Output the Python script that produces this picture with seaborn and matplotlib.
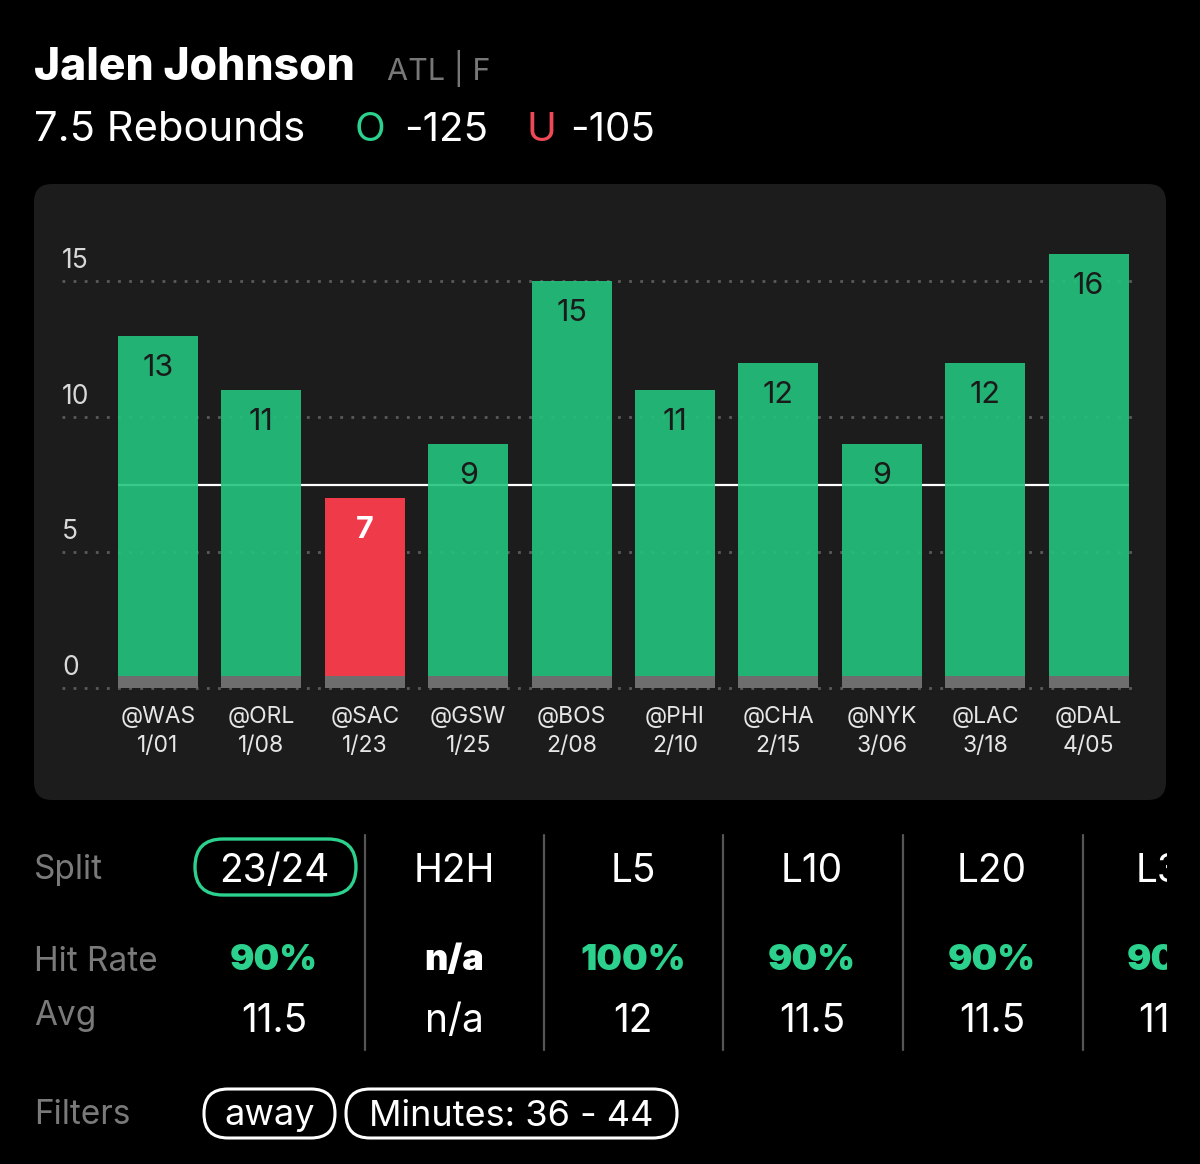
import matplotlib
matplotlib.use("Agg")
import matplotlib.pyplot as plt
import seaborn as sns
import pandas as pd
from matplotlib.patches import FancyBboxPatch, Rectangle

# game log
opponents = ['@WAS', '@ORL', '@SAC', '@GSW', '@BOS', '@PHI', '@CHA', '@NYK', '@LAC', '@DAL']
dates = ['1/01', '1/08', '1/23', '1/25', '2/08', '2/10', '2/15', '3/06', '3/18', '4/05']
rebounds = [13, 11, 7, 9, 15, 11, 12, 9, 12, 16]
prop_line = 7.5
y_ticks = [0, 5, 10, 15]

# split table
splits = ['23/24', 'H2H', 'L5', 'L10', 'L20', 'L30']
hit_rates = ['90%', 'n/a', '100%', '90%', '90%', '90%']
averages = ['11.5', 'n/a', '12', '11.5', '11.5', '11.5']
filters = ['away', 'Minutes: 36 - 44']

GREEN = '#23c47d'
GREEN_TXT = '#2bd18d'
RED = '#ef3a4a'
PANEL = '#1c1c1c'
LABEL_GRAY = '#7a7a7a'

sns.set_theme(style="dark")
plt.rcParams['font.family'] = ['Inter', 'DejaVu Sans']

fig = plt.figure(figsize=(12, 11.64), dpi=100, facecolor='black')

# background axes in pixel coords for the header, panel and table
bg = fig.add_axes([0, 0, 1, 1])
bg.set_xlim(0, 1200)
bg.set_ylim(1164, 0)
bg.axis('off')
bg.set_facecolor('black')

bg.add_patch(FancyBboxPatch((34, 184), 1132, 616, boxstyle="round,pad=0,rounding_size=18",
                            facecolor=PANEL, edgecolor='none'))

bg.text(34, 80, 'Jalen Johnson', color='white', fontsize=32, fontweight='heavy', va='baseline')
bg.text(387, 80, 'ATL | F', color='#777777', fontsize=22, va='baseline')
bg.text(34, 141, f'{prop_line} Rebounds', color='white', fontsize=30, va='baseline')
bg.text(355, 141, 'O', color=GREEN_TXT, fontsize=29, va='baseline')
bg.text(404, 141, '-125', color='white', fontsize=29, va='baseline')
bg.text(526, 141, 'U', color='#ee4a55', fontsize=29, va='baseline')
bg.text(570, 141, '-105', color='white', fontsize=29, va='baseline')

# chart
ax = fig.add_axes([62 / 1200, (1164 - 696) / 1164, 1078 / 1200, 466 / 1164])
ax.set_facecolor('none')
df = pd.DataFrame({
    'game': [f'{o}\n{d}' for o, d in zip(opponents, dates)],
    'reb': rebounds,
    'result': ['over' if r > prop_line else 'under' for r in rebounds],
})
sns.barplot(data=df, x='game', y='reb', hue='result', palette={'over': GREEN, 'under': RED},
            dodge=False, width=0.774, saturation=1, errorbar=None, legend=False, ax=ax,
            zorder=3, edgecolor='none', linewidth=0)

bars = sorted(ax.patches, key=lambda p: p.get_x())
for p, r in zip(bars, rebounds):
    ax.add_patch(Rectangle((p.get_x(), 0), p.get_width(), 0.45, facecolor='#6e6e6e',
                           edgecolor='none', zorder=4))
    under = r <= prop_line
    if not under:
        p.set_alpha(0.9)
    ax.annotate(str(r), (p.get_x() + p.get_width() / 2, r), xytext=(0, -23),
                textcoords='offset points', ha='center', va='center', fontsize=22,
                color='white' if under else '#1a1a1a', fontweight='bold' if under else 'normal',
                zorder=5)

for t in y_ticks:
    ax.axhline(t, color='#5a5a5a', lw=2, linestyle=(0, (1, 3)), dash_capstyle='butt', zorder=1)
    ax.annotate(str(t), (0, t), xycoords=('axes fraction', 'data'), xytext=(0, 14.5),
                textcoords='offset points', ha='left', va='center', fontsize=19, color='#d8d8d8')

ax.hlines(prop_line, bars[0].get_x(), bars[-1].get_x() + bars[-1].get_width(),
          color='white', lw=1.6, zorder=2)

ax.set_xlim(-0.928, 9.497)
ax.set_ylim(-0.3, 16.9)
ax.set_yticks([])
ax.set_xlabel('')
ax.set_ylabel('')
ax.tick_params(axis='x', length=0, pad=7, labelsize=16.5, labelcolor='#e6e6e6')
for lbl in ax.get_xticklabels():
    lbl.set_linespacing(1.45)
for s in ax.spines.values():
    s.set_visible(False)
ax.grid(False)

# split table
col_x = [274, 454, 633, 812, 992, 1171]
bg.text(34, 870, 'Split', color=LABEL_GRAY, fontsize=24, va='center')
bg.text(34, 962, 'Hit Rate', color=LABEL_GRAY, fontsize=24, va='center')
bg.text(34, 1016, 'Avg', color=LABEL_GRAY, fontsize=24, va='center')
bg.text(34, 1115, 'Filters', color=LABEL_GRAY, fontsize=24, va='center')

bg.add_patch(FancyBboxPatch((195, 839), 161, 56, boxstyle="round,pad=0,rounding_size=28",
                            facecolor='none', edgecolor=GREEN_TXT, lw=2.4))
for x, sp, hr, av in zip(col_x, splits, hit_rates, averages):
    bg.text(x, 871, sp, color='white', fontsize=28, ha='center', va='center')
    bg.text(x, 961, hr, color='white' if hr == 'n/a' else GREEN_TXT, fontsize=26,
            fontweight='black', ha='center', va='center')
    bg.text(x, 1021, av, color='white', fontsize=28, ha='center', va='center')
for x in [365, 544, 723, 903, 1083]:
    bg.plot([x, x], [835, 1050], color='#555555', lw=1.6)
bg.add_patch(Rectangle((1167, 820), 40, 250, facecolor='black', edgecolor='none', zorder=10))

pill_x = [204, 346]
pill_w = [131, 331]
for x, w, f in zip(pill_x, pill_w, filters):
    bg.add_patch(FancyBboxPatch((x, 1089), w, 49, boxstyle="round,pad=0,rounding_size=24",
                                facecolor='none', edgecolor='white', lw=2.2))
    bg.text(x + w / 2, 1116, f, color='white', fontsize=26, ha='center', va='center')

fig.savefig('out.png', dpi=100, facecolor='black')
